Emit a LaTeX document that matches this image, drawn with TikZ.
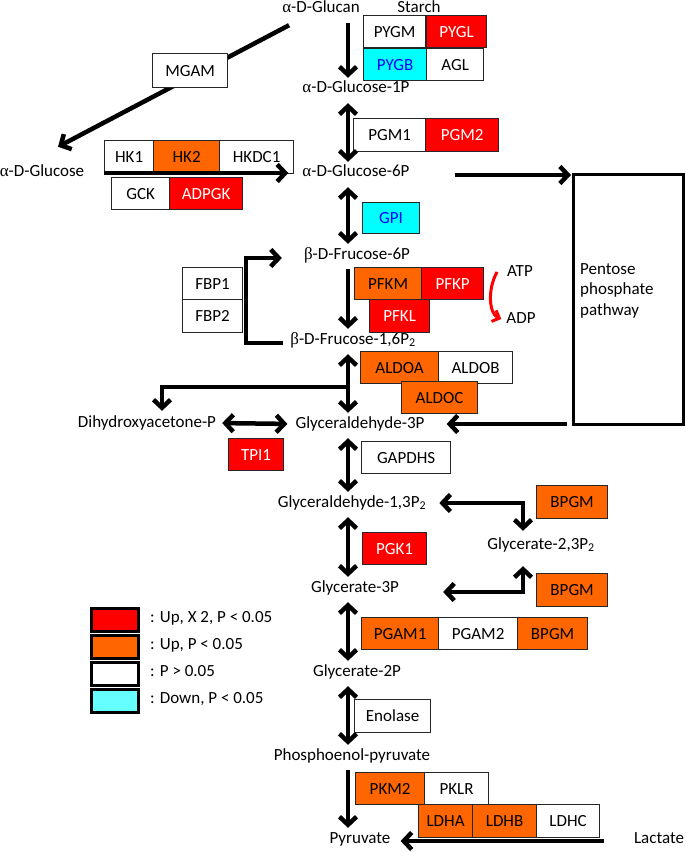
\documentclass[tikz,border=0pt]{standalone}
\usepackage{fontspec}
\setmainfont{Carlito}
\newfontfamily\grk{Liberation Serif}
\usetikzlibrary{arrows.meta}
\definecolor{upred}{HTML}{FF0000}
\definecolor{uporange}{HTML}{FF6600}
\definecolor{downcyan}{HTML}{00FFFF}
\definecolor{legcyan}{HTML}{66FFFF}
\begin{document}
\begin{tikzpicture}[x=1pt,y=-1pt,
    >={Straight Barb[length=8pt,width=17pt]},
    met/.style={inner sep=0pt,text height=12pt,text depth=4pt,font=\fontsize{17}{20.5}\selectfont},
    enz/.style={draw=black!85,line width=1.2pt,inner sep=0pt,minimum height=32pt,anchor=north west,font=\fontsize{17}{20.5}\selectfont},
    wt/.style={enz,fill=white},
    rd/.style={enz,fill=upred,text=white},
    og/.style={enz,fill=uporange},
    cy/.style={enz,fill=downcyan,text=blue},
    arr/.style={line width=4.5pt,->},
    darr/.style={line width=4.5pt,<->},
    colarr/.style={shorten <=6pt,shorten >=3pt},
    legbox/.style={draw,line width=2.7pt,minimum width=47pt,minimum height=23pt,inner sep=0pt,anchor=north west}]
    \useasboundingbox (0,0) rectangle (685,853);
    \coordinate (col) at (348,0);
    \node[met] (glucan) at (321,9) {{\grk α}-D-Glucan};
    \node[met] (starch) at (419,9) {Starch};
    \node[met] (glc1p) at (356,89) {{\grk α}-D-Glucose-1P};
    \node[met] (glc6p) at (356,173) {{\grk α}-D-Glucose-6P};
    \node[met] (glucose) at (42,173) {{\grk α}-D-Glucose};
    \node[met] (fru6p) at (357,255) {{\grk β}-D-Frucose-6P};
    \node[met] (fru16p) at (353,340) {{\grk β}-D-Frucose-1,6P\textsubscript{2}};
    \node[met] (dhap) at (147,423) {Dihydroxyacetone-P};
    \node[met] (gap) at (360,424) {Glyceraldehyde-3P};
    \node[met] (glyc13) at (352,503) {Glyceraldehyde-1,3P\textsubscript{2}};
    \node[met] (glyc23) at (541,545) {Glycerate-2,3P\textsubscript{2}};
    \node[met] (glyc3p) at (355,588) {Glycerate-3P};
    \node[met] (glyc2p) at (357,672) {Glycerate-2P};
    \node[met] (pep) at (352,756) {Phosphoenol-pyruvate};
    \node[met] (pyr) at (360,839) {Pyruvate};
    \node[met] (lac) at (659,839) {Lactate};
    \node[met] (atp) at (520,272) {ATP};
    \node[met] (adp) at (521,319) {ADP};
    \node[draw,line width=3.2pt,minimum width=110pt,minimum height=250pt,anchor=north west] (pentose) at (572,173) {};
    \node[met,anchor=north west,align=left,text height=,text depth=] (pptext) at (580,263) {Pentose\\phosphate\\pathway};
    \draw[arr] ([xshift=7pt,yshift=-8pt]glucan.south west) -- ([xshift=16pt,yshift=18pt]glucose.north);
    \node[wt,minimum width=62] (pygm) at (363,15) {PYGM};
    \node[rd,minimum width=60] (pygl) at (426,15) {PYGL};
    \node[cy,minimum width=63] (pygb) at (363,48) {PYGB};
    \node[wt,minimum width=57] (agl) at (426,48) {AGL};
    \node[wt,minimum width=72,minimum height=33] (pgma) at (353,118) {PGM1};
    \node[rd,minimum width=73,minimum height=33] (pgmb) at (425,118) {PGM2};
    \node[cy,minimum width=57,minimum height=31] (gpi) at (362,202) {GPI};
    \node[wt,minimum width=75,minimum height=34] (mgam) at (152,53) {MGAM};
    \node[wt,minimum width=49,minimum height=33] (hka) at (104,140) {HK1};
    \node[og,minimum width=66,minimum height=33] (hkb) at (153,140) {HK2};
    \node[wt,minimum width=74,minimum height=33] (hkdc) at (219,140) {HKDC1};
    \node[wt,minimum width=58] (gck) at (111,177) {GCK};
    \node[rd,minimum width=73] (adpgk) at (169,177) {ADPGK};
    \node[wt,minimum width=60] (fbpa) at (182,267) {FBP1};
    \node[wt,minimum width=60,minimum height=33] (fbpb) at (182,299) {FBP2};
    \node[og,minimum width=67] (pfkm) at (354,267) {PFKM};
    \node[rd,minimum width=62] (pfkp) at (421,267) {PFKP};
    \node[rd,minimum width=60,minimum height=33] (pfkl) at (369,299) {PFKL};
    \node[og,minimum width=78] (aldoa) at (360,351) {ALDOA};
    \node[wt,minimum width=74] (aldob) at (438,351) {ALDOB};
    \node[og,minimum width=76] (aldoc) at (401,381) {ALDOC};
    \node[rd,minimum width=55] (tpi) at (228,438) {TPI1};
    \node[wt,minimum width=89] (gapdh) at (361,441) {GAPDHS};
    \node[og,minimum width=71,minimum height=33] (bpgma) at (536,485) {BPGM};
    \node[rd,minimum width=64] (pgk) at (362,532) {PGK1};
    \node[og,minimum width=71,minimum height=33] (bpgmb) at (536,573) {BPGM};
    \node[og,minimum width=77] (pgama) at (361,617) {PGAM1};
    \node[wt,minimum width=79] (pgamb) at (438,617) {PGAM2};
    \node[og,minimum width=70] (bpgmc) at (517,617) {BPGM};
    \node[wt,minimum width=76,minimum height=33] (eno) at (354,699) {Enolase};
    \node[og,minimum width=69] (pkm) at (355,772) {PKM2};
    \node[wt,minimum width=64] (pklr) at (424,772) {PKLR};
    \node[og,minimum width=54,minimum height=33] (ldha) at (418,804) {LDHA};
    \node[og,minimum width=64,minimum height=33] (ldhb) at (472,804) {LDHB};
    \node[wt,minimum width=63,minimum height=33] (ldhc) at (536,804) {LDHC};
    \draw[arr,colarr] (col |- glucan.south) -- (col |- glc1p.north);
    \draw[darr,colarr] (col |- glc1p.south) -- (col |- glc6p.north);
    \draw[darr,colarr] (col |- glc6p.south) -- (col |- fru6p.north);
    \draw[arr,colarr] (col |- fru6p.south) -- (col |- fru16p.north);
    \draw[darr,colarr] (col |- fru16p.south) -- (col |- gap.north);
    \draw[darr,colarr] (col |- gap.south) -- (col |- glyc13.north);
    \draw[darr,colarr] (col |- glyc13.south) -- (col |- glyc3p.north);
    \draw[darr,colarr] (col |- glyc3p.south) -- (col |- glyc2p.north);
    \draw[darr,colarr] (col |- glyc2p.south) -- (col |- pep.north);
    \draw[arr,colarr] (col |- pep.south) -- (col |- pyr.north);
    \draw[arr,shorten <=20pt,shorten >=14pt] (glucose.east) -- (glc6p.west);
    \draw[arr,shorten <=45pt,shorten >=1pt] ([yshift=-2pt]glc6p.east) -- ([yshift=-2pt]glc6p.east -| pentose.west);
    \draw[arr,shorten <=7pt,shorten >=22pt] ([yshift=-3pt]fru16p.west) -- ++(-44,0) |- ([yshift=-3pt]fru6p.west);
    \draw[red,line width=3pt,-{Straight Barb[length=6pt,width=12pt]}] ([xshift=-10pt]atp.west) .. controls +(-10,18) and +(-12,-5) .. ([xshift=-5pt]adp.west);
    \coordinate (split) at (348,387);
    \draw[arr,shorten >=4pt] (split) -| ([xshift=15pt]dhap.north);
    \draw[darr,shorten <=6pt,shorten >=8pt] (dhap.east) -- (gap.west);
    \draw[arr,shorten <=5pt,shorten >=22pt] (pentose.west |- gap) -- (gap.east);
    \draw[darr,shorten <=13pt,shorten >=6pt] (glyc13.east) -| ([xshift=-18pt]glyc23.north);
    \draw[darr,shorten <=13pt,shorten >=44pt] ([xshift=-18pt]glyc23.south) |- ([yshift=-4pt]glyc3p.east);
    \draw[arr,shorten <=30pt,shorten >=10pt] ([yshift=-2pt]lac.west) -- ([yshift=-2pt]pyr.east);
    \node[legbox,fill=upred] (lega) at (90,607) {};
    \node[legbox,fill=uporange] (legb) at (90,634) {};
    \node[legbox,fill=white] (legc) at (90,661) {};
    \node[legbox,fill=legcyan] (legd) at (90,688) {};
    \node[met,anchor=west] (legta) at (150,618) {: Up, X 2, P < 0.05};
    \node[met,anchor=west] (legtb) at (150,645) {: Up, P < 0.05};
    \node[met,anchor=west] (legtc) at (150,672) {: P > 0.05};
    \node[met,anchor=west] (legtd) at (150,699) {: Down, P < 0.05};
\end{tikzpicture}
\end{document}
